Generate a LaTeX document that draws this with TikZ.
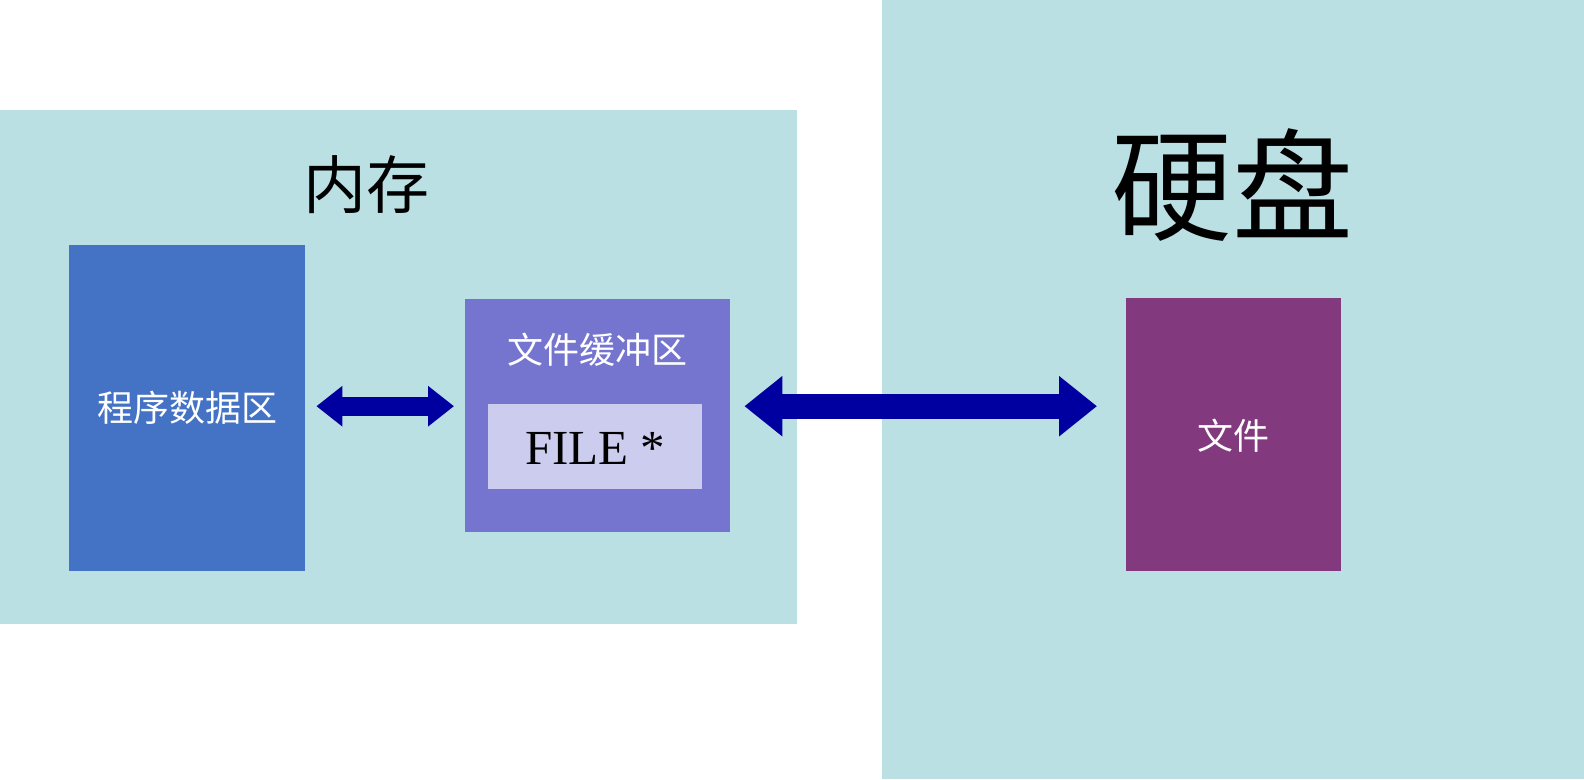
\documentclass[tikz,border=0pt]{standalone}
\usepackage{fontspec}
\setmainfont{Liberation Serif}
\newfontfamily\cjk{Noto Sans CJK SC}
\usetikzlibrary{arrows.meta}

\definecolor{regionbg}{RGB}{186,224,228}
\definecolor{progblue}{RGB}{68,114,196}
\definecolor{bufviolet}{RGB}{117,117,208}
\definecolor{filelilac}{RGB}{204,204,238}
\definecolor{diskpurple}{RGB}{131,57,125}
\definecolor{arrowblue}{RGB}{0,0,160}

\tikzset{
  region/.style={fill=regionbg,draw=none,anchor=north west,inner sep=0pt},
  block/.style={draw=none,anchor=north west,inner sep=0pt,text=white,font=\cjk\fontsize{36}{40}\selectfont},
  fatarrow/.style={draw=arrowblue,line width=19pt,{Triangle[length=26pt,width=39pt]}-{Triangle[length=26pt,width=39pt]}},
  bigarrow/.style={draw=arrowblue,line width=25pt,{Triangle[length=38pt,width=58pt]}-{Triangle[length=38pt,width=58pt]}}
}

\begin{document}
\begin{tikzpicture}[x=1pt,y=-1pt]
\useasboundingbox (0,0) rectangle (1584,779);

% the two regions
\node[region,minimum width=797pt,minimum height=514pt] (mem) at (0,110) {};
\node[region,minimum width=702pt,minimum height=779pt] (disk) at (882,0) {};

\node[font=\cjk\fontsize{63}{70}\selectfont] (memtitle) at (366,185) {内存};
\node[font=\cjk\fontsize{121}{130}\selectfont] (disktitle) at (1232,185) {硬盘};

% boxes in memory
\node[block,fill=progblue,minimum width=236pt,minimum height=326pt] (prog) at (69,245) {};
\node[font=\cjk\fontsize{36}{40}\selectfont,text=white] (progtext) at (prog.center) {程序数据区};

\node[block,fill=bufviolet,minimum width=265pt,minimum height=233pt] (buf) at (465,299) {};
\node[font=\cjk\fontsize{36}{40}\selectfont,text=white] (buftext) at (597,350) {文件缓冲区};
\node[block,fill=filelilac,minimum width=214pt,minimum height=85pt] (fptr) at (488,404) {};
\node[font=\fontsize{49}{52}\selectfont] (fptrtext) at ([yshift=-2pt]fptr.center) {FILE *};

% file on the disk
\node[block,fill=diskpurple,minimum width=215pt,minimum height=273pt] (file) at (1126,298) {};
\node[font=\cjk\fontsize{36}{40}\selectfont,text=white] (filetext) at (1233,436) {文件};

% arrows
\coordinate (mid) at ([yshift=2pt]prog.east);
\draw[fatarrow,shorten <=11pt,shorten >=11pt] (mid) -- (mid -| buf.west);
\draw[bigarrow,shorten <=14pt,shorten >=29pt] (buf.east |- mid) -- (file.west |- mid);
\end{tikzpicture}
\end{document}
